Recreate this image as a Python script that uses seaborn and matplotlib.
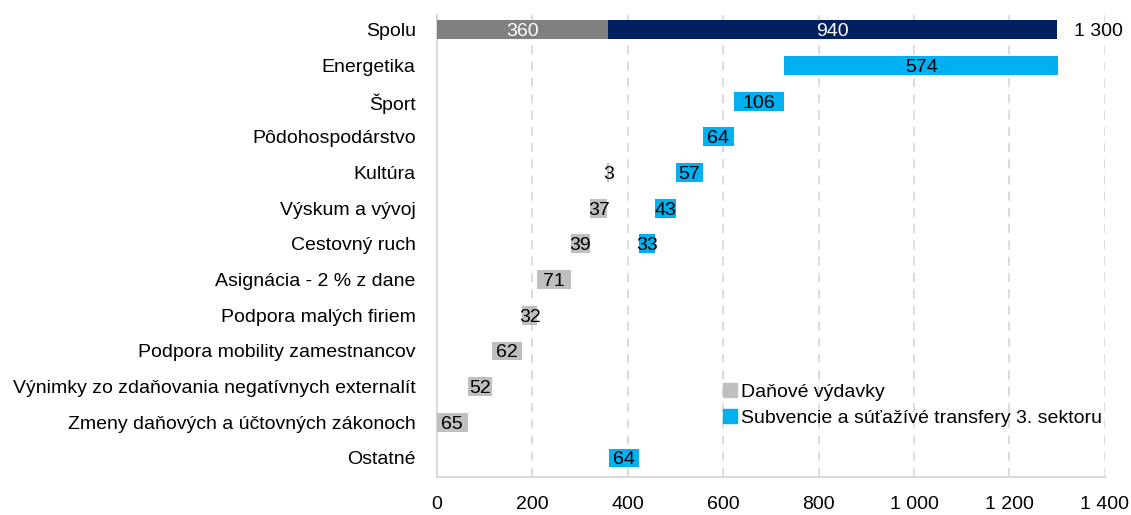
import numpy as np
import pandas as pd
import matplotlib
matplotlib.use('Agg')
import matplotlib.pyplot as plt
import seaborn as sns
from matplotlib.lines import Line2D

categories = ['Spolu', 'Energetika', 'Šport', 'Pôdohospodárstvo', 'Kultúra',
              'Výskum a vývoj', 'Cestovný ruch', 'Asignácia - 2 % z dane',
              'Podpora malých firiem', 'Podpora mobility zamestnancov',
              'Výnimky zo zdaňovania negatívnych externalít',
              'Zmeny daňových a účtovných zákonoch', 'Ostatné']
tax = [360, 0, 0, 0, 3, 37, 39, 71, 32, 62, 52, 65, 0]
subsidy = [940, 574, 106, 64, 57, 43, 33, 0, 0, 0, 0, 0, 64]
xticks = [0, 200, 400, 600, 800, 1000, 1200, 1400]

sns.set_style('white')
plt.rcParams['font.family'] = ['Liberation Sans', 'DejaVu Sans']
plt.rcParams['text.color'] = 'black'
plt.rcParams['xtick.color'] = 'black'
plt.rcParams['ytick.color'] = 'black'

tax = np.array(tax, dtype=float)
subsidy = np.array(subsidy, dtype=float)
n = len(categories)

# waterfall: grey segments stacked from the bottom row up, then blue on top of the grey total
tax_start = np.zeros(n)
sub_start = np.zeros(n)
sub_start[0] = tax[0]
for i in range(1, n):
    tax_start[i] = tax[i + 1:].sum()
    sub_start[i] = tax[1:].sum() + subsidy[i + 1:].sum()

df = pd.DataFrame({'cat': categories, 'tax': tax, 'sub': subsidy})

fig, ax = plt.subplots(figsize=(11.31, 5.15), dpi=100)
fig.subplots_adjust(left=0.386, right=0.977, top=0.971, bottom=0.074)

sns.barplot(data=df, y='cat', x='tax', left=tax_start, orient='h',
            color='#BFBFBF', width=0.53, saturation=1, linewidth=0,
            errorbar=None, ax=ax, zorder=3)
sns.barplot(data=df, y='cat', x='sub', left=sub_start, orient='h',
            color='#00B0F0', width=0.53, saturation=1, linewidth=0,
            errorbar=None, ax=ax, zorder=3)
# total row in darker shades
ax.patches[0].set_facecolor('#808080')
ax.patches[n].set_facecolor('#002060')

fs = 14
for i in range(n):
    col = 'white' if i == 0 else 'black'
    if tax[i] > 0:
        ax.text(tax_start[i] + tax[i] / 2, i, f'{int(tax[i])}', ha='center',
                va='center_baseline', fontsize=fs, color=col, zorder=5)
    if subsidy[i] > 0:
        ax.text(sub_start[i] + subsidy[i] / 2, i, f'{int(subsidy[i])}', ha='center',
                va='center_baseline', fontsize=fs, color=col, zorder=5)
total = tax[0] + subsidy[0]
ax.text(total + 35, 0, f'{int(total):,}'.replace(',', ' '), ha='left',
        va='center_baseline', fontsize=fs, color='black')

ax.set_xlim(0, 1400)
ax.set_ylim(n - 0.47, -0.42)
ax.set_xticks(xticks)
ax.set_xticklabels([f'{t:,}'.replace(',', ' ') for t in xticks], fontsize=fs)
ax.tick_params(axis='x', length=0, pad=14)
ax.tick_params(axis='y', length=0, pad=15, labelsize=fs)
ax.set_xlabel('')
ax.set_ylabel('')

ax.xaxis.grid(True, linestyle=(0, (5, 4)), color='#D9D9D9', linewidth=1.3, zorder=0)
ax.yaxis.grid(False)
ax.set_axisbelow(True)
for s in ['top', 'right']:
    ax.spines[s].set_visible(False)
for s in ['left', 'bottom']:
    ax.spines[s].set_color('#D9D9D9')
    ax.spines[s].set_linewidth(1.5)

handles = [Line2D([], [], marker='s', linestyle='', color='#BFBFBF', markersize=10),
           Line2D([], [], marker='s', linestyle='', color='#00B0F0', markersize=10)]
ax.legend(handles, ['Daňové výdavky', 'Subvencie a súťažívé transfery 3. sektoru'],
          loc='upper left', bbox_to_anchor=(0.64, 0.255), bbox_transform=fig.transFigure,
          frameon=False, fontsize=fs, handlelength=0.6, handletextpad=0.3,
          labelspacing=0.4, borderaxespad=0, borderpad=0)

plt.savefig('out.png', dpi=100)
